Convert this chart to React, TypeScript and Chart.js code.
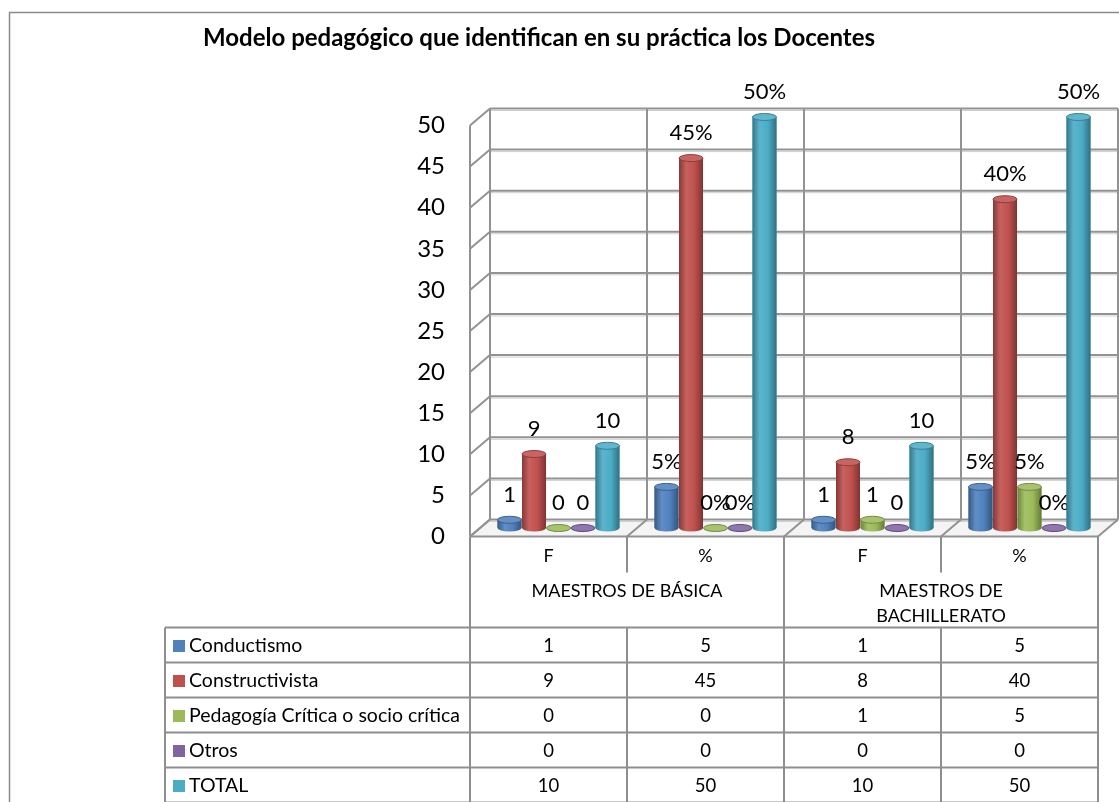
import React, { useEffect, useRef } from 'react';
import { Chart, registerables } from 'chart.js';

Chart.register(...registerables);

const titleText = 'Modelo pedagógico que identifican en su práctica los Docentes';
const categories = ['F', '%', 'F', '%'];
const groupLabels = [['MAESTROS DE BÁSICA'], ['MAESTROS DE', 'BACHILLERATO']];
const percentCategory = [false, true, false, true];
const seriesNames = ['Conductismo', 'Constructivista', 'Pedagogía Crítica o socio crítica', 'Otros', 'TOTAL'];
const conductismo = [1, 5, 1, 5];
const constructivista = [9, 45, 8, 40];
const pedagogiaCritica = [0, 0, 1, 5];
const otros = [0, 0, 0, 0];
const total = [10, 50, 10, 50];
const seriesColors = ['#4F81BD', '#C0504D', '#9BBB59', '#8064A2', '#4BACC6'];
const yMin = 0;
const yMax = 50;
const yStep = 5;

const seriesValues = [conductismo, constructivista, pedagogiaCritica, otros, total];

const FONT = 'Lato, "Open Sans", sans-serif';
const DX = 10;
const DY = 8.5;
const GRID = '#929292';
const LINE = '#8e8e8e';

function hexToRgb(h: string) {
  const n = parseInt(h.slice(1), 16);
  return [(n >> 16) & 255, (n >> 8) & 255, n & 255];
}
function mix(h: string, t: number, to: number) {
  const c = hexToRgb(h).map((v) => Math.round(v + (to - v) * t));
  return `rgb(${c[0]},${c[1]},${c[2]})`;
}

function line(ctx: CanvasRenderingContext2D, x1: number, y1: number, x2: number, y2: number) {
  ctx.beginPath();
  ctx.moveTo(x1, y1);
  ctx.lineTo(x2, y2);
  ctx.stroke();
}

const threeDPlugin = {
  id: 'threeD',
  beforeDatasetsDraw(chart: any) {
    const { ctx, scales } = chart;
    const x = scales.x;
    const y = scales.y;
    const n = categories.length;
    const catW = x.getPixelForValue(1) - x.getPixelForValue(0);
    const leftB = x.getPixelForValue(0) - catW / 2;
    const fl = leftB - DX;
    const bl = leftB + DX;
    const yf = (v: number) => y.getPixelForValue(v) + DY;
    const yb = (v: number) => y.getPixelForValue(v) - DY;
    ctx.save();
    // floor fill
    ctx.fillStyle = '#f4f4f4';
    ctx.beginPath();
    ctx.moveTo(fl, yf(yMin));
    ctx.lineTo(fl + n * catW, yf(yMin));
    ctx.lineTo(bl + n * catW, yb(yMin));
    ctx.lineTo(bl, yb(yMin));
    ctx.closePath();
    ctx.fill();
    // back wall + side wall grid lines
    for (const t of y.ticks) {
      const v = t.value;
      ctx.strokeStyle = '#cfcfcf';
      ctx.lineWidth = 1;
      line(ctx, bl, yb(v) + 2, bl + n * catW, yb(v) + 2);
      ctx.strokeStyle = GRID;
      ctx.lineWidth = 2;
      line(ctx, bl, yb(v), bl + n * catW, yb(v));
      line(ctx, fl, yf(v), bl, yb(v));
    }
    // back verticals
    ctx.strokeStyle = GRID;
    ctx.lineWidth = 2;
    for (let k = 0; k <= n; k++) {
      const xb = bl + k * catW;
      line(ctx, xb, yb(yMax), xb, yb(yMin));
    }
    // floor dividers
    for (let k = 0; k <= n; k++) {
      line(ctx, fl + k * catW, yf(yMin), bl + k * catW, yb(yMin));
    }
    // front axis
    line(ctx, fl, yf(yMax), fl, yf(yMin));
    // floor front edge
    line(ctx, fl, yf(yMin), fl + n * catW, yf(yMin));
    ctx.restore();
  },
  afterDatasetsDraw(chart: any) {
    const { ctx } = chart;
    ctx.save();
    chart.data.datasets.forEach((ds: any, di: number) => {
      const meta = chart.getDatasetMeta(di);
      const color = seriesColors[di];
      meta.data.forEach((bar: any, i: number) => {
        const p = bar.getProps(['x', 'y', 'base', 'width'], true);
        const w = p.width;
        const l = p.x - w / 2;
        const rx = w / 2;
        const ry = 3.5;
        const top = Math.min(p.y, p.base);
        const base = p.base;
        const g = ctx.createLinearGradient(l, 0, l + w, 0);
        g.addColorStop(0, mix(color, 0.3, 0));
        g.addColorStop(0.3, mix(color, 0.1, 255));
        g.addColorStop(0.65, color);
        g.addColorStop(1, mix(color, 0.35, 0));
        ctx.fillStyle = g;
        ctx.beginPath();
        ctx.moveTo(l, top);
        ctx.lineTo(l, base);
        ctx.ellipse(p.x, base, rx, ry, 0, Math.PI, 0, true);
        ctx.lineTo(l + w, top);
        ctx.closePath();
        ctx.fill();
        ctx.fillStyle = mix(color, 0.12, 255);
        ctx.strokeStyle = mix(color, 0.25, 0);
        ctx.lineWidth = 1;
        ctx.beginPath();
        ctx.ellipse(p.x, top, rx, ry, 0, 0, Math.PI * 2);
        ctx.fill();
        ctx.stroke();
        const v = seriesValues[di][i];
        const txt = percentCategory[i] ? `${v}%` : `${v}`;
        ctx.fillStyle = '#000';
        ctx.font = `22px ${FONT}`;
        ctx.textAlign = 'center';
        ctx.textBaseline = 'middle';
        ctx.fillText(txt, p.x, p.y - 25);
      });
    });
    ctx.restore();
  },
  afterDraw(chart: any) {
    const { ctx, scales } = chart;
    const x = scales.x;
    const y = scales.y;
    const n = categories.length;
    const catW = x.getPixelForValue(1) - x.getPixelForValue(0);
    const fl = x.getPixelForValue(0) - catW / 2 - DX;
    const fr = fl + n * catW;
    const top = y.getPixelForValue(yMin) + DY;
    const h1 = top + 36;
    const h2 = top + 91;
    const rowH = 35;
    const legendLeft = 165;
    const rows = seriesNames.length;
    const bottom = h2 + rows * rowH;
    ctx.save();
    ctx.fillStyle = '#000';
    ctx.font = `bold 24px ${FONT}`;
    ctx.textAlign = 'center';
    ctx.textBaseline = 'middle';
    ctx.fillText(titleText, 539, 38);
    ctx.strokeStyle = '#8a8a8a';
    ctx.lineWidth = 1.5;
    ctx.beginPath();
    ctx.moveTo(9.5, 820);
    ctx.lineTo(9.5, 12.5);
    ctx.lineTo(1130, 12.5);
    ctx.stroke();
    ctx.strokeStyle = LINE;
    ctx.lineWidth = 2;
    for (let k = 0; k <= n; k++) {
      const xx = fl + k * catW;
      if (k % 2 === 0) {
        line(ctx, xx, top, xx, bottom);
      } else {
        line(ctx, xx, top, xx, h1);
        line(ctx, xx, h2, xx, bottom);
      }
    }
    line(ctx, legendLeft, h2, legendLeft, bottom);
    for (let r = 0; r <= rows; r++) {
      const yy = h2 + r * rowH;
      line(ctx, legendLeft, yy, fr, yy);
    }
    ctx.fillStyle = '#000';
    ctx.textAlign = 'center';
    ctx.textBaseline = 'middle';
    ctx.font = `18px ${FONT}`;
    categories.forEach((c, i) => {
      ctx.fillText(c, x.getPixelForValue(i) - DX, top + 20);
    });
    groupLabels.forEach((lines, gi) => {
      const cx = fl + (gi * 2 + 1) * catW;
      lines.forEach((t, li) => {
        ctx.fillText(t, cx, h1 + 19 + li * 25);
      });
    });
    seriesNames.forEach((name, r) => {
      const cy = h2 + r * rowH + rowH / 2 + 1;
      ctx.fillStyle = seriesColors[r];
      ctx.fillRect(173, cy - 6, 12, 12);
      ctx.fillStyle = '#000';
      ctx.textAlign = 'left';
      ctx.font = `19.5px ${FONT}`;
      ctx.fillText(name, 189, cy);
      ctx.textAlign = 'center';
      ctx.font = `18.5px ${FONT}`;
      seriesValues[r].forEach((v, i) => {
        ctx.fillText(String(v), x.getPixelForValue(i) - DX, cy);
      });
    });
    ctx.restore();
  },
};

export default function App() {
  const ref = useRef<HTMLCanvasElement | null>(null);
  useEffect(() => {
    if (!ref.current) return;
    const chart = new Chart(ref.current, {
      type: 'bar',
      data: {
        labels: categories,
        datasets: seriesNames.map((name, i) => ({
          label: name,
          data: seriesValues[i],
          backgroundColor: seriesColors[i],
          borderWidth: 0,
          categoryPercentage: 0.78,
          barPercentage: 0.98,
        })),
      },
      options: {
        responsive: false,
        animation: false,
        layout: { padding: { left: 380, right: 11, top: 117, bottom: 274 } },
        plugins: {
          legend: { display: false },
          title: { display: false },
          tooltip: { enabled: false },
        },
        scales: {
          x: { display: false },
          y: {
            min: yMin,
            max: yMax,
            afterFit: (s: any) => {
              s.width = 100;
            },
            grid: { display: false, drawTicks: false },
            border: { display: false },
            ticks: {
              stepSize: yStep,
              padding: 35,
              labelOffset: DY,
              color: '#000',
              font: { family: FONT, size: 24 },
            },
          },
        },
      },
      plugins: [threeDPlugin],
    });
    return () => chart.destroy();
  }, []);
  return (
    <div style={{ position: 'absolute', left: 0, top: 0, width: 1119, height: 802, background: '#fff' }}>
      <canvas ref={ref} width={1119} height={802} />
    </div>
  );
}
